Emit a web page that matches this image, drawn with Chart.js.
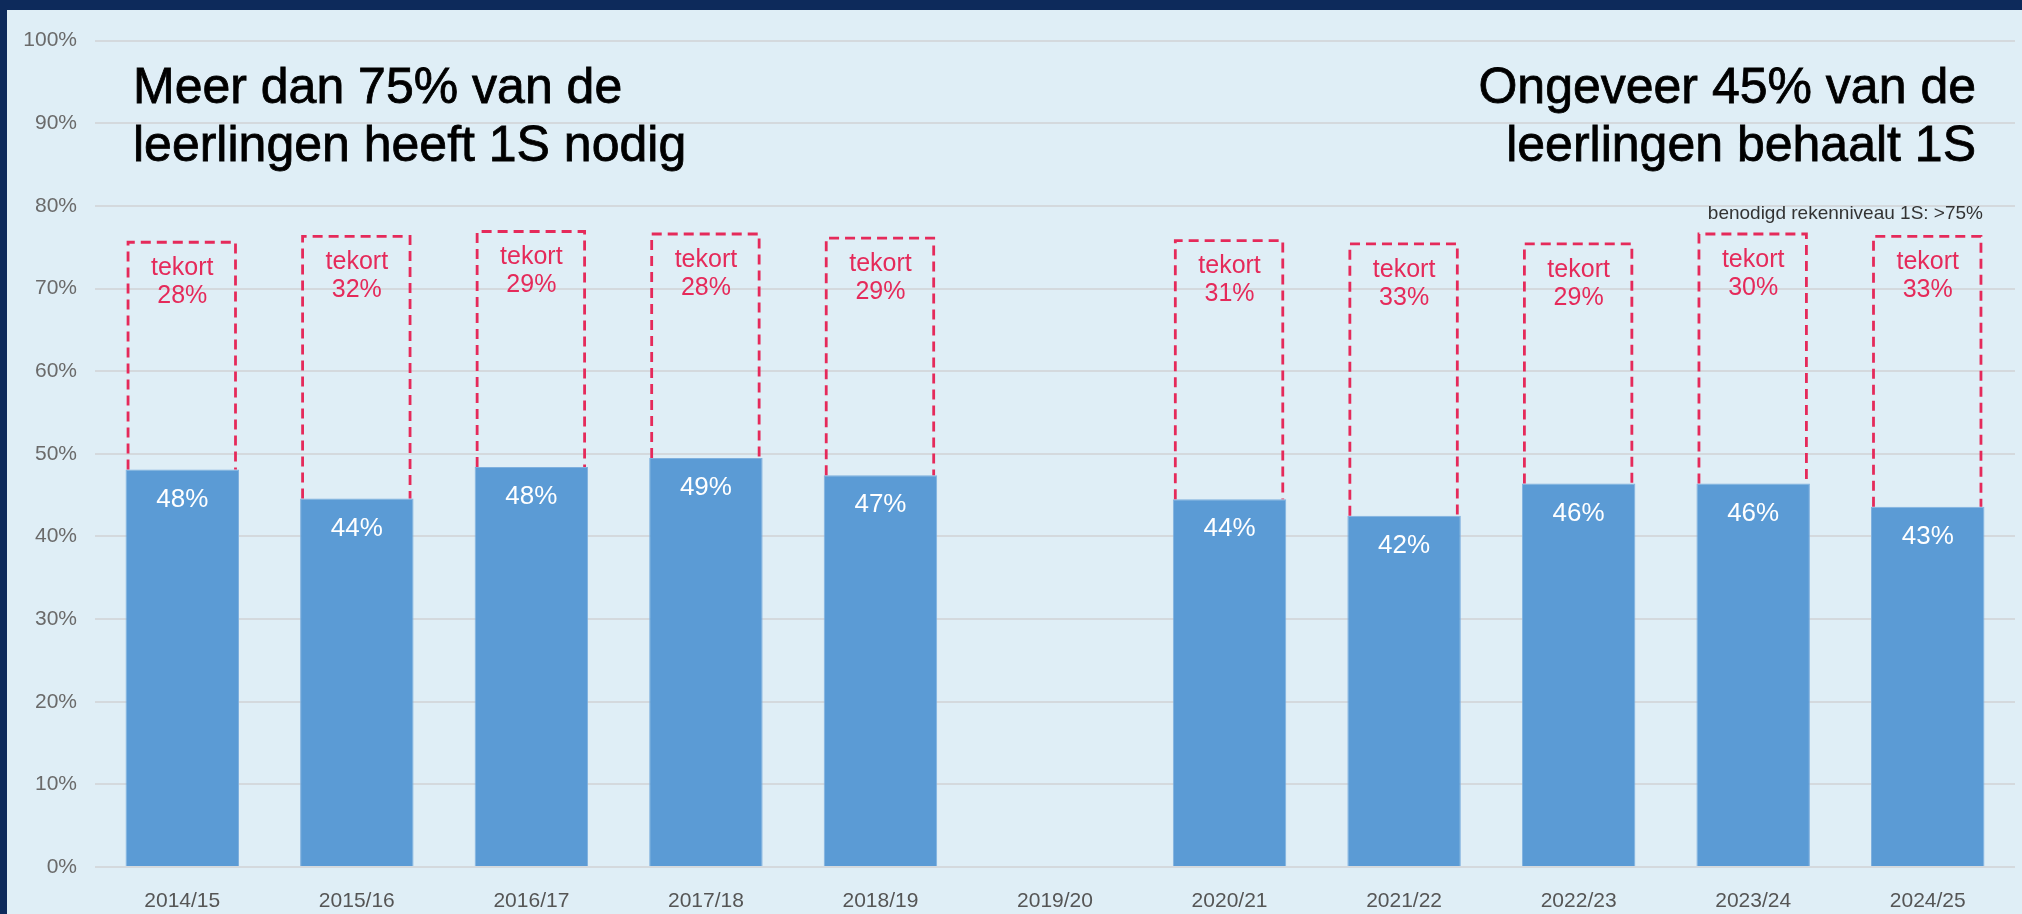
<!DOCTYPE html>
<html>
<head>
<meta charset="utf-8">
<script src="https://cdn.jsdelivr.net/npm/chart.js@4"></script>
<style>
  html, body { margin: 0; padding: 0; }
  body { width: 2022px; height: 914px; background: #0d2a5b; overflow: hidden; font-family: "Liberation Sans", Arial, sans-serif; }
  #panel { position: absolute; left: 7px; top: 10px; width: 2015px; height: 904px; background: #dfeef6; }
  #chart { position: absolute; left: 0; top: 0; }
  .title { position: absolute; font-size: 50px; line-height: 58px; color: #000; white-space: nowrap; -webkit-text-stroke: 0.8px #000; }
  #titleLeft { left: 126px; top: 47px; text-align: left; }
  #titleRight { right: 46px; top: 47px; text-align: right; }
  #note { position: absolute; right: 39px; top: 192px; font-size: 19px; line-height: 22px; color: #333; white-space: nowrap; }
</style>
</head>
<body>
<div id="panel">
  <canvas id="chart" width="2015" height="904"></canvas>
  <div class="title" id="titleLeft">Meer dan 75% van de<br>leerlingen heeft 1S nodig</div>
  <div class="title" id="titleRight">Ongeveer 45% van de<br>leerlingen behaalt 1S</div>
  <div id="note">benodigd rekenniveau 1S: &gt;75%</div>
</div>
<script>
  const years = ['2014/15', '2015/16', '2016/17', '2017/18', '2018/19', '2019/20', '2020/21', '2021/22', '2022/23', '2023/24', '2024/25'];
  const scores = [48.1, 44.6, 48.4, 49.5, 47.4, null, 44.5, 42.5, 46.4, 46.4, 43.6];
  const scoreLabels = ['48%', '44%', '48%', '49%', '47%', null, '44%', '42%', '46%', '46%', '43%'];
  // top of the dashed "tekort" boxes
  const boxTops = [75.6, 76.3, 76.9, 76.6, 76.1, null, 75.8, 75.4, 75.4, 76.6, 76.3];
  const tekortLabels = ['28%', '32%', '29%', '28%', '29%', null, '31%', '33%', '29%', '30%', '33%'];
  const yTicks = [0, 10, 20, 30, 40, 50, 60, 70, 80, 90, 100];

  const gaps = boxTops.map((t, i) => (t === null || scores[i] === null) ? null : t - scores[i]);

  const red = '#e52a5a';
  const font = '"Liberation Sans", Arial, sans-serif';

  const boxPlugin = {
    id: 'tekortBoxes',
    afterDatasetsDraw(chart) {
      const ctx = chart.ctx;
      const barMeta = chart.getDatasetMeta(0);
      const gapMeta = chart.getDatasetMeta(1);
      ctx.save();
      gapMeta.data.forEach((el, i) => {
        if (gaps[i] === null) return;
        const p = el.getProps(['x', 'y', 'base', 'width'], true);
        const left = p.x - p.width / 2 + 2.5;
        const right = p.x + p.width / 2 - 3.5;
        ctx.setLineDash([10, 6]);
        ctx.lineWidth = 2.8;
        ctx.strokeStyle = red;
        ctx.beginPath();
        ctx.moveTo(left, p.base);
        ctx.lineTo(left, p.y);
        ctx.lineTo(right, p.y);
        ctx.lineTo(right, p.base);
        ctx.stroke();
        ctx.setLineDash([]);
        ctx.fillStyle = red;
        ctx.font = '25px ' + font;
        ctx.textAlign = 'center';
        ctx.textBaseline = 'middle';
        ctx.fillText('tekort', p.x, p.y + 26);
        ctx.fillText(tekortLabels[i], p.x, p.y + 54);
      });
      barMeta.data.forEach((el, i) => {
        if (scores[i] === null) return;
        const p = el.getProps(['x', 'y'], true);
        ctx.fillStyle = '#ffffff';
        ctx.font = '26px ' + font;
        ctx.textAlign = 'center';
        ctx.textBaseline = 'middle';
        ctx.fillText(scoreLabels[i], p.x, p.y + 30);
      });
      ctx.restore();
    }
  };

  new Chart(document.getElementById('chart'), {
    type: 'bar',
    data: {
      labels: years,
      datasets: [{
        label: 'behaalt 1S',
        data: scores,
        backgroundColor: '#5b9bd5',
        borderColor: '#7fb0de',
        borderWidth: 1,
        categoryPercentage: 1,
        barPercentage: 0.65
      }, {
        label: 'tekort',
        data: gaps,
        backgroundColor: 'rgba(0,0,0,0)',
        borderWidth: 0,
        categoryPercentage: 1,
        barPercentage: 0.65
      }]
    },
    options: {
      responsive: false,
      animation: false,
      layout: { padding: { left: 10, right: 7, top: 27, bottom: 0 } },
      plugins: {
        legend: { display: false },
        tooltip: { enabled: false }
      },
      scales: {
        x: {
          stacked: true,
          grid: { display: false },
          border: { display: false },
          ticks: { color: '#555', font: { family: font, size: 21 }, padding: 14, maxRotation: 0 },
          afterFit(s) { s.height = 47; }
        },
        y: {
          stacked: true,
          min: 0,
          max: 100,
          afterBuildTicks(s) { s.ticks = yTicks.map(v => ({ value: v })); },
          grid: { color: '#d4d9dd', lineWidth: 2, drawTicks: false },
          border: { display: false },
          ticks: { color: '#6a6a6a', font: { family: font, size: 21 }, padding: 18, callback: v => v + '%' },
          afterFit(s) { s.width = 78; }
        }
      }
    },
    plugins: [boxPlugin]
  });
</script>
</body>
</html>
